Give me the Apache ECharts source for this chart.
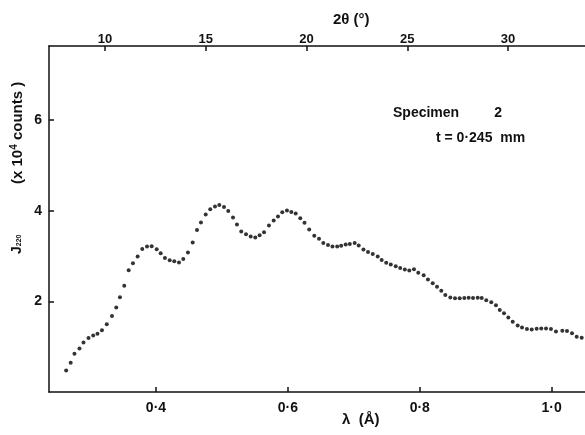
<!DOCTYPE html>
<html>
<head>
<meta charset="utf-8">
<script src="https://cdn.jsdelivr.net/npm/echarts@6/dist/echarts.min.js"></script>
<style>
html,body{margin:0;padding:0;background:#fff;}
#chart{width:585px;height:435px;}
</style>
</head>
<body>
<div id="chart"></div>
<script>
// Wavelength λ (Å)
var lambda = [
 0.2638,0.2707,0.2764,0.2840,0.2901,0.2977,0.3048,0.3113,0.3181,0.3254,
 0.3333,0.3398,0.3454,0.3519,0.3586,0.3651,0.3722,0.3792,0.3864,0.3935,
 0.4011,0.4071,0.4136,0.4208,0.4277,0.4349,0.4414,0.4485,0.4557,0.4622,
 0.4682,0.4754,0.4823,0.4895,0.4960,0.5031,0.5096,0.5168,0.5228,0.5293,
 0.5365,0.5436,0.5506,0.5572,0.5638,0.5713,0.5785,0.5850,0.5915,0.5986,
 0.6052,0.6118,0.6188,0.6252,0.6323,0.6400,0.6472,0.6537,0.6608,0.6676,
 0.6748,0.6808,0.6876,0.6939,0.7013,0.7074,0.7146,0.7215,0.7287,0.7362,
 0.7422,0.7491,0.7560,0.7635,0.7703,0.7773,0.7841,0.7912,0.7977,0.8059,
 0.8124,0.8196,0.8261,0.8326,0.8387,0.8463,0.8534,0.8605,0.8675,0.8741,
 0.8807,0.8878,0.8939,0.9008,0.9084,0.9155,0.9212,0.9277,0.9342,0.9409,
 0.9484,0.9550,0.9625,0.9697,0.9772,0.9842,0.9914,0.9989,1.0065,1.0161,
 1.0232,1.0308,1.0379,1.0455
];
// J220 (x 10^4 counts)
var j220 = [
 0.475,0.648,0.846,0.961,1.094,1.189,1.244,1.286,1.364,1.496,
 1.675,1.863,2.093,2.347,2.685,2.840,2.988,3.156,3.211,3.215,
 3.149,3.061,2.957,2.906,2.884,2.855,2.935,3.076,3.297,3.576,
 3.739,3.916,4.033,4.093,4.128,4.084,3.996,3.850,3.695,3.540,
 3.481,3.430,3.408,3.459,3.525,3.673,3.783,3.872,3.967,4.004,
 3.973,3.938,3.834,3.735,3.587,3.448,3.381,3.288,3.242,3.209,
 3.209,3.227,3.253,3.264,3.288,3.231,3.145,3.090,3.045,2.988,
 2.913,2.851,2.811,2.773,2.736,2.701,2.681,2.707,2.634,2.575,
 2.480,2.398,2.325,2.236,2.139,2.088,2.066,2.066,2.073,2.082,
 2.073,2.082,2.073,2.022,1.978,1.912,1.808,1.735,1.646,1.551,
 1.470,1.425,1.388,1.381,1.397,1.403,1.403,1.388,1.337,1.352,
 1.344,1.299,1.220,1.198
];
var lambdaTicks = [0.4, 0.6, 0.8, 1.0];
var twoThetaTicks = [10, 15, 20, 25, 30];
var yTicks = [2, 4, 6];

var points = lambda.map(function (l, i) { return [l, j220[i]]; });

var FONT = '"Liberation Sans", Arial, sans-serif';
var lineStyle = { color: '#111', width: 1.5 };

var chart = echarts.init(document.getElementById('chart'), null, { renderer: 'canvas' });
chart.setOption({
  animation: false,
  backgroundColor: '#fff',
  grid: { left: 49, right: 0, top: 46, bottom: 43, containLabel: false },
  xAxis: [
    {
      type: 'value', position: 'bottom', min: 0.2378, max: 1.0505,
      axisLine: { show: true, onZero: false, lineStyle: lineStyle },
      axisTick: { show: true, inside: true, length: 5, lineStyle: lineStyle, customValues: lambdaTicks },
      axisLabel: {
        customValues: lambdaTicks, margin: 9, color: '#111', fontFamily: FONT,
        fontSize: 14, fontWeight: 'bold',
        formatter: function (v) { return v.toFixed(1).replace('.', '\u00b7'); }
      },
      splitLine: { show: false }
    },
    {
      type: 'value', position: 'top', min: 7.22, max: 33.82,
      axisLine: { show: true, onZero: false, lineStyle: lineStyle },
      axisTick: { show: true, inside: true, length: 5, lineStyle: lineStyle, customValues: twoThetaTicks },
      axisLabel: {
        customValues: twoThetaTicks, margin: 0, color: '#111', fontFamily: FONT,
        fontSize: 13, fontWeight: 'bold'
      },
      splitLine: { show: false }
    }
  ],
  yAxis: {
    type: 'value', min: 0, max: 7.635,
    axisLine: { show: true, onZero: false, lineStyle: lineStyle },
    axisTick: { show: true, inside: true, length: 5, lineStyle: lineStyle, customValues: yTicks },
    axisLabel: {
      customValues: yTicks, margin: 7, color: '#111', fontFamily: FONT,
      fontSize: 14, fontWeight: 'bold'
    },
    splitLine: { show: false }
  },
  series: [{
    type: 'scatter', xAxisIndex: 0, yAxisIndex: 0,
    data: points, symbol: 'circle', symbolSize: 4,
    itemStyle: { color: '#000' }
  }],
  graphic: [
    { type: 'text', left: 333, top: 12,
      style: { text: '2\u03b8 (\u00b0)', font: 'bold 15px ' + FONT, fill: '#111' } },
    { type: 'text', left: 342, top: 412,
      style: { text: '\u03bb  (\u00c5)', font: 'bold 15px ' + FONT, fill: '#111' } },
    { type: 'text', x: 9, y: 184, rotation: Math.PI / 2, originX: 0, originY: 0,
      style: {
        text: '(x 10{s|4} counts )', fill: '#111', font: 'bold 15px ' + FONT,
        rich: { s: { fontSize: 10, fontWeight: 'bold', fontFamily: FONT, verticalAlign: 'top', padding: [0, 0, 7, 0] } }
      } },
    { type: 'text', x: 10, y: 254, rotation: Math.PI / 2, originX: 0, originY: 0,
      style: {
        text: 'J{s|220}', fill: '#111', font: 'bold 14px ' + FONT,
        rich: { s: { fontSize: 7, fontWeight: 'bold', fontFamily: FONT, padding: [5, 0, 0, 0] } }
      } },
    { type: 'text', left: 393, top: 106,
      style: { text: 'Specimen         2', font: 'bold 14px ' + FONT, fill: '#111' } },
    { type: 'text', left: 436, top: 131,
      style: { text: 't = 0\u00b7245  mm', font: 'bold 14px ' + FONT, fill: '#111' } }
  ]
});
</script>
</body>
</html>
